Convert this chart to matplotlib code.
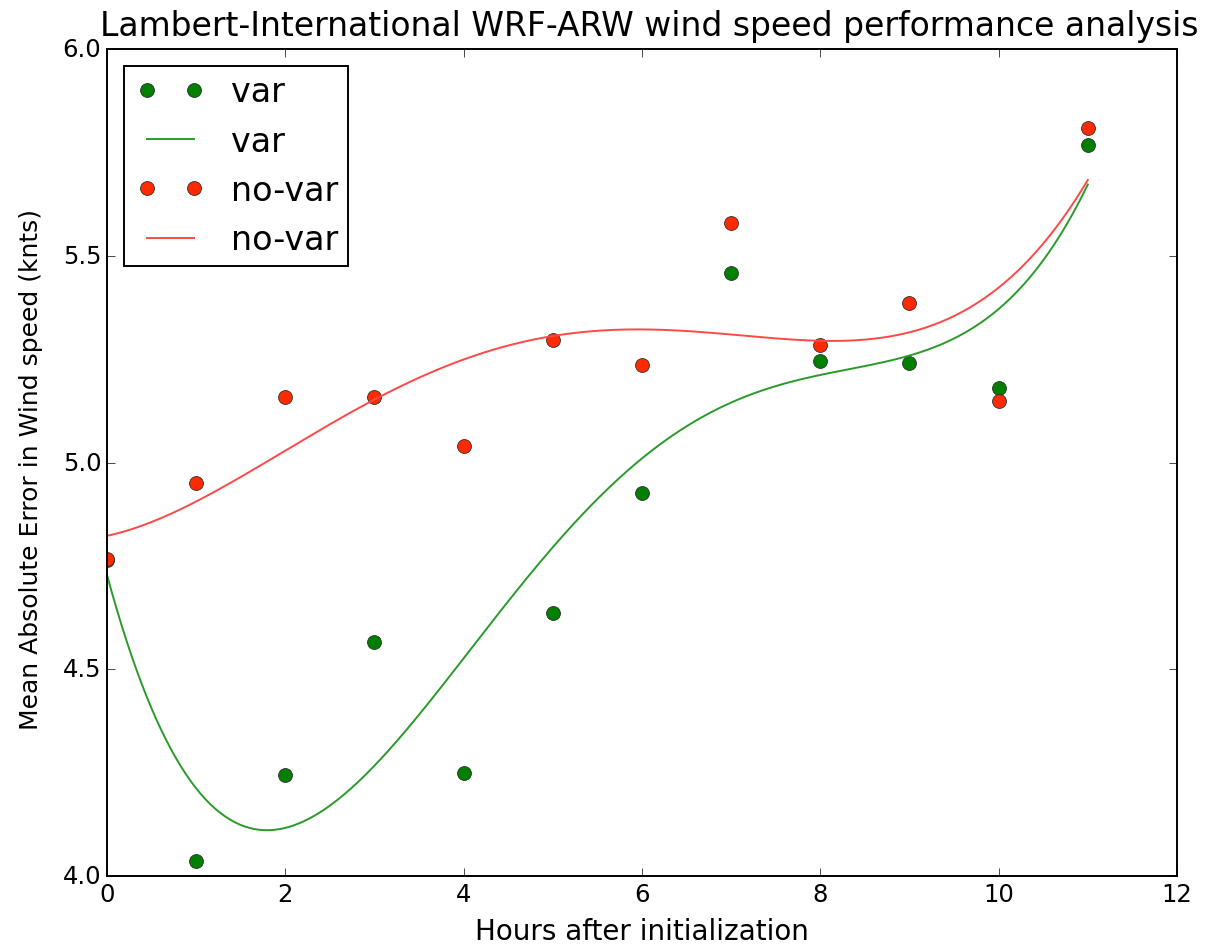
import numpy as np
import matplotlib
matplotlib.use("Agg")
import matplotlib.pyplot as plt
from matplotlib.lines import Line2D
from matplotlib.legend_handler import HandlerLine2D

plt.style.use('classic')
plt.rcParams['font.family'] = ['DejaVu Sans']

# observed values
hours = [0, 1, 2, 3, 4, 5, 6, 7, 8, 9, 10, 11]
var_mae = [4.765, 4.036, 4.244, 4.566, 4.25, 4.636, 4.926, 5.458, 5.245, 5.24, 5.18, 5.768]
novar_mae = [4.767, 4.95, 5.158, 5.158, 5.04, 5.296, 5.236, 5.579, 5.284, 5.386, 5.149, 5.809]
fit_degree = 4

xticks = [0, 2, 4, 6, 8, 10, 12]
yticks = [4.0, 4.5, 5.0, 5.5, 6.0]

fig = plt.figure(figsize=(12.1, 9.45), dpi=100, facecolor='white')
ax = fig.add_axes([0.0884, 0.072, 0.8843, 0.875])

x = np.array(hours, dtype=float)
xs = np.linspace(x.min(), x.max(), 400)
fit_var = np.polyval(np.polyfit(x, var_mae, fit_degree), xs)
fit_novar = np.polyval(np.polyfit(x, novar_mae, fit_degree), xs)

ax.plot(hours, var_mae, 'o', color='#007f00', mec='#303030', mew=0.6, ms=10, label='var')
ax.plot(xs, fit_var, '-', color='#2a9a2a', lw=1.4, label='var')
ax.plot(hours, novar_mae, 'o', color='#ff2a00', mec='#303030', mew=0.6, ms=10, label='no-var')
ax.plot(xs, fit_novar, '-', color='#ff4848', lw=1.4, label='no-var')

ax.set_xlim(0, 12)
ax.set_ylim(4.0, 6.0)
ax.set_xticks(xticks)
ax.set_yticks(yticks)
ax.tick_params(labelsize=17.5, length=6)
for s in ax.spines.values():
    s.set_linewidth(1.4)
ax.set_xlabel('Hours after initialization', fontsize=20)
ax.set_ylabel('Mean Absolute Error in Wind speed (knts)', fontsize=18)
ax.xaxis.set_label_coords(0.5, -0.050)
ax.yaxis.set_label_coords(-0.060, 0.493)
ax.set_title('Lambert-International WRF-ARW wind speed performance analysis',
             fontsize=23.8, pad=10, x=0.507)
leg = ax.legend(loc='upper left', numpoints=2, fontsize=24, frameon=True,
                handlelength=2.23, handletextpad=0.7, labelspacing=0.49, borderpad=0.29,
                borderaxespad=0.5,
                handler_map={Line2D: HandlerLine2D(marker_pad=0.4)})
leg.get_frame().set_linewidth(1.4)

fig.savefig('out.png', dpi=100, facecolor='white')
